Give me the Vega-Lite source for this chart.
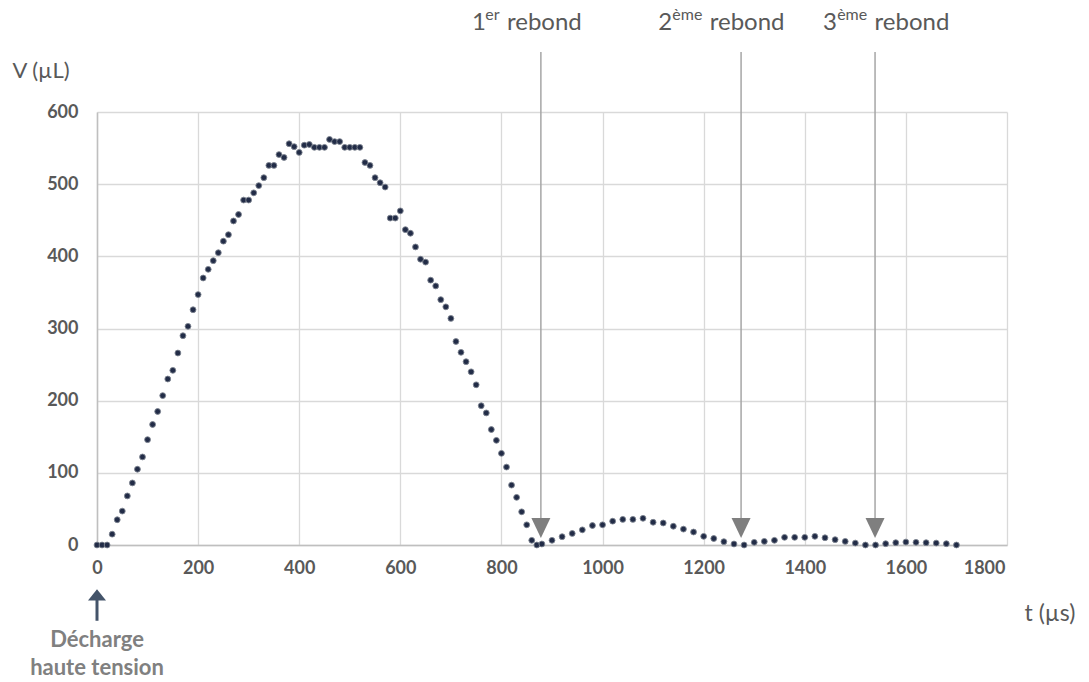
{
  "$schema": "https://vega.github.io/schema/vega-lite/v6.json",
  "width": 910,
  "height": 433,
  "autosize": {"type": "none"},
  "padding": {"left": 97, "top": 112, "right": 82, "bottom": 137},
  "background": "white",
  "config": {
    "view": {"stroke": null},
    "font": "Lato",
    "axis": {"grid": true, "gridColor": "#d9d9d9", "gridWidth": 1.3, "ticks": false, "domainColor": "#bfbfbf", "domainWidth": 1.5, "labelFont": "Lato", "labelFontWeight": "bold", "labelFontSize": 18, "labelColor": "#595959", "titleFont": "Lato", "titleFontWeight": "normal", "titleFontSize": 22, "titleColor": "#595959", "labelFlush": false}
  },
  "datasets": {
    "points": [
      {"t":0,"V":0},{"t":10,"V":0},{"t":20,"V":0},{"t":30,"V":15},{"t":40,"V":35},{"t":50,"V":47},{"t":60,"V":68},{"t":70,"V":86},{"t":80,"V":105},{"t":90,"V":122},
      {"t":100,"V":146},{"t":110,"V":167},{"t":120,"V":185},{"t":130,"V":207},{"t":140,"V":230},{"t":150,"V":242},{"t":160,"V":266},{"t":170,"V":290},{"t":180,"V":303},{"t":190,"V":326},
      {"t":200,"V":347},{"t":210,"V":370},{"t":220,"V":382},{"t":230,"V":394},{"t":240,"V":405},{"t":250,"V":421},{"t":260,"V":430},{"t":270,"V":449},{"t":280,"V":458},{"t":290,"V":478},
      {"t":300,"V":478},{"t":310,"V":488},{"t":320,"V":498},{"t":330,"V":509},{"t":340,"V":526},{"t":350,"V":526},{"t":360,"V":541},{"t":370,"V":537},{"t":380,"V":556},{"t":390,"V":552},
      {"t":400,"V":544},{"t":410,"V":554},{"t":420,"V":555},{"t":430,"V":551},{"t":440,"V":551},{"t":450,"V":551},{"t":460,"V":562},{"t":470,"V":559},{"t":480,"V":559},{"t":490,"V":551},
      {"t":500,"V":551},{"t":510,"V":551},{"t":520,"V":551},{"t":530,"V":530},{"t":540,"V":526},{"t":550,"V":509},{"t":560,"V":502},{"t":570,"V":496},{"t":580,"V":453},{"t":590,"V":453},
      {"t":600,"V":463},{"t":610,"V":437},{"t":620,"V":432},{"t":630,"V":413},{"t":640,"V":396},{"t":650,"V":392},{"t":660,"V":367},{"t":670,"V":359},{"t":680,"V":340},{"t":690,"V":330},
      {"t":700,"V":314},{"t":710,"V":282},{"t":720,"V":267},{"t":730,"V":254},{"t":740,"V":240},{"t":750,"V":222},{"t":760,"V":193},{"t":770,"V":183},{"t":780,"V":160},{"t":790,"V":145},
      {"t":800,"V":127},{"t":810,"V":108},{"t":820,"V":83},{"t":830,"V":66},{"t":840,"V":46},{"t":850,"V":28},{"t":860,"V":6.5},{"t":870,"V":0},{"t":880,"V":1.4},
      {"t":900,"V":6.5},{"t":920,"V":11.5},{"t":940,"V":16},{"t":960,"V":21},{"t":980,"V":27},{"t":1000,"V":28},{"t":1020,"V":33},{"t":1040,"V":35.5},{"t":1060,"V":35.5},{"t":1080,"V":37},
      {"t":1100,"V":31.5},{"t":1120,"V":30.5},{"t":1140,"V":26},{"t":1160,"V":22},{"t":1180,"V":18},{"t":1200,"V":12},{"t":1220,"V":9},{"t":1240,"V":4.6},{"t":1260,"V":1.4},{"t":1280,"V":0},
      {"t":1300,"V":3.7},{"t":1320,"V":5},{"t":1340,"V":6.5},{"t":1360,"V":10.6},{"t":1380,"V":10.6},{"t":1400,"V":10.6},{"t":1420,"V":12},{"t":1440,"V":10},{"t":1460,"V":7.4},{"t":1480,"V":5},
      {"t":1500,"V":2.7},{"t":1520,"V":0},{"t":1540,"V":0},{"t":1560,"V":1.8},{"t":1580,"V":3.2},{"t":1600,"V":4.1},{"t":1620,"V":3.7},{"t":1640,"V":3.2},{"t":1660,"V":2.7},{"t":1680,"V":1.8},{"t":1700,"V":0}
    ],
    "rebonds": [
      {"t":878,"top":683,"bottom":37,"mid":23.5},
      {"t":1274,"top":683,"bottom":37,"mid":23.5},
      {"t":1539,"top":683,"bottom":37,"mid":23.5}
    ],
    "labels": [
      {"t":742,"V":714,"txt":"1","kind":"main"},
      {"t":768,"V":727,"txt":"er","kind":"sup"},
      {"t":811,"V":714,"txt":"rebond","kind":"main"},
      {"t":1110,"V":714,"txt":"2","kind":"main"},
      {"t":1138,"V":727,"txt":"ème","kind":"sup"},
      {"t":1212,"V":714,"txt":"rebond","kind":"main"},
      {"t":1436,"V":714,"txt":"3","kind":"main"},
      {"t":1464,"V":727,"txt":"ème","kind":"sup"},
      {"t":1538,"V":714,"txt":"rebond","kind":"main"}
    ],
    "decharge": [
      {"t":0,"head":-69,"tail":-105,"neck":-75,"txt1":-132,"txt2":-171}
    ]
  },
  "layer": [
    {
      "data": {"name": "points"},
      "mark": {"type": "point", "filled": true, "shape": "circle", "size": 34, "fill": "#222c47", "stroke": "#7d8390", "strokeWidth": 0.9, "opacity": 1},
      "encoding": {
        "x": {"field": "t", "type": "quantitative", "scale": {"domain": [0, 1800], "nice": false},
              "axis": {"values": [0,200,400,600,800,1000,1200,1400,1600,1800], "format": "d", "labelPadding": 14,
                       "labelAlign": {"condition": {"test": "datum.value >= 1800", "value": "right"}, "value": "center"},
                       "labelOffset": {"condition": {"test": "datum.value >= 1800", "value": -2}, "value": 0},
                       "title": "t (µs)", "titleFontSize": 23, "titleAnchor": "start", "titleAlign": "left", "titleX": 927, "titleY": 68, "titleBaseline": "middle"}},
        "y": {"field": "V", "type": "quantitative", "scale": {"domain": [0, 600], "nice": false},
              "axis": {"values": [0,100,200,300,400,500,600], "format": "d", "labelPadding": 19, "title": "V (µL)", "titleAngle": 0, "titleAlign": "left", "titleX": -85, "titleY": -42, "titleBaseline": "middle"}}
      }
    },
    {
      "data": {"name": "rebonds"},
      "mark": {"type": "rule", "color": "#a6a6a6", "strokeWidth": 1.5},
      "encoding": {
        "x": {"field": "t", "type": "quantitative"},
        "y": {"field": "top", "type": "quantitative"},
        "y2": {"field": "bottom"}
      }
    },
    {
      "data": {"name": "rebonds"},
      "mark": {"type": "point", "filled": true, "shape": "M-0.95,-1L0.95,-1L0,1Z", "size": 400, "color": "#7f7f7f", "opacity": 1},
      "encoding": {
        "x": {"field": "t", "type": "quantitative"},
        "y": {"field": "mid", "type": "quantitative"}
      }
    },
    {
      "data": {"name": "labels"},
      "transform": [{"filter": "datum.kind === 'main'"}],
      "mark": {"type": "text", "align": "left", "baseline": "alphabetic", "fontSize": 24, "color": "#595959", "font": "Lato"},
      "encoding": {
        "x": {"field": "t", "type": "quantitative"},
        "y": {"field": "V", "type": "quantitative"},
        "text": {"field": "txt"}
      }
    },
    {
      "data": {"name": "labels"},
      "transform": [{"filter": "datum.kind === 'sup'"}],
      "mark": {"type": "text", "align": "left", "baseline": "alphabetic", "fontSize": 16, "color": "#595959", "font": "Lato"},
      "encoding": {
        "x": {"field": "t", "type": "quantitative"},
        "y": {"field": "V", "type": "quantitative"},
        "text": {"field": "txt"}
      }
    },
    {
      "data": {"name": "decharge"},
      "mark": {"type": "rule", "color": "#44546a", "strokeWidth": 3},
      "encoding": {
        "x": {"field": "t", "type": "quantitative"},
        "y": {"field": "neck", "type": "quantitative"},
        "y2": {"field": "tail"}
      }
    },
    {
      "data": {"name": "decharge"},
      "mark": {"type": "point", "filled": true, "shape": "M0,-0.63L1,0.63L-1,0.63Z", "size": 324, "color": "#44546a", "opacity": 1},
      "encoding": {
        "x": {"field": "t", "type": "quantitative"},
        "y": {"field": "head", "type": "quantitative"}
      }
    },
    {
      "data": {"name": "decharge"},
      "mark": {"type": "text", "align": "center", "baseline": "middle", "fontSize": 22, "fontWeight": "bold", "color": "#808080", "font": "Lato", "text": "Décharge"},
      "encoding": {
        "x": {"field": "t", "type": "quantitative"},
        "y": {"field": "txt1", "type": "quantitative"}
      }
    },
    {
      "data": {"name": "decharge"},
      "mark": {"type": "text", "align": "center", "baseline": "middle", "fontSize": 22, "fontWeight": "bold", "color": "#808080", "font": "Lato", "text": "haute tension"},
      "encoding": {
        "x": {"field": "t", "type": "quantitative"},
        "y": {"field": "txt2", "type": "quantitative"}
      }
    }
  ]
}
